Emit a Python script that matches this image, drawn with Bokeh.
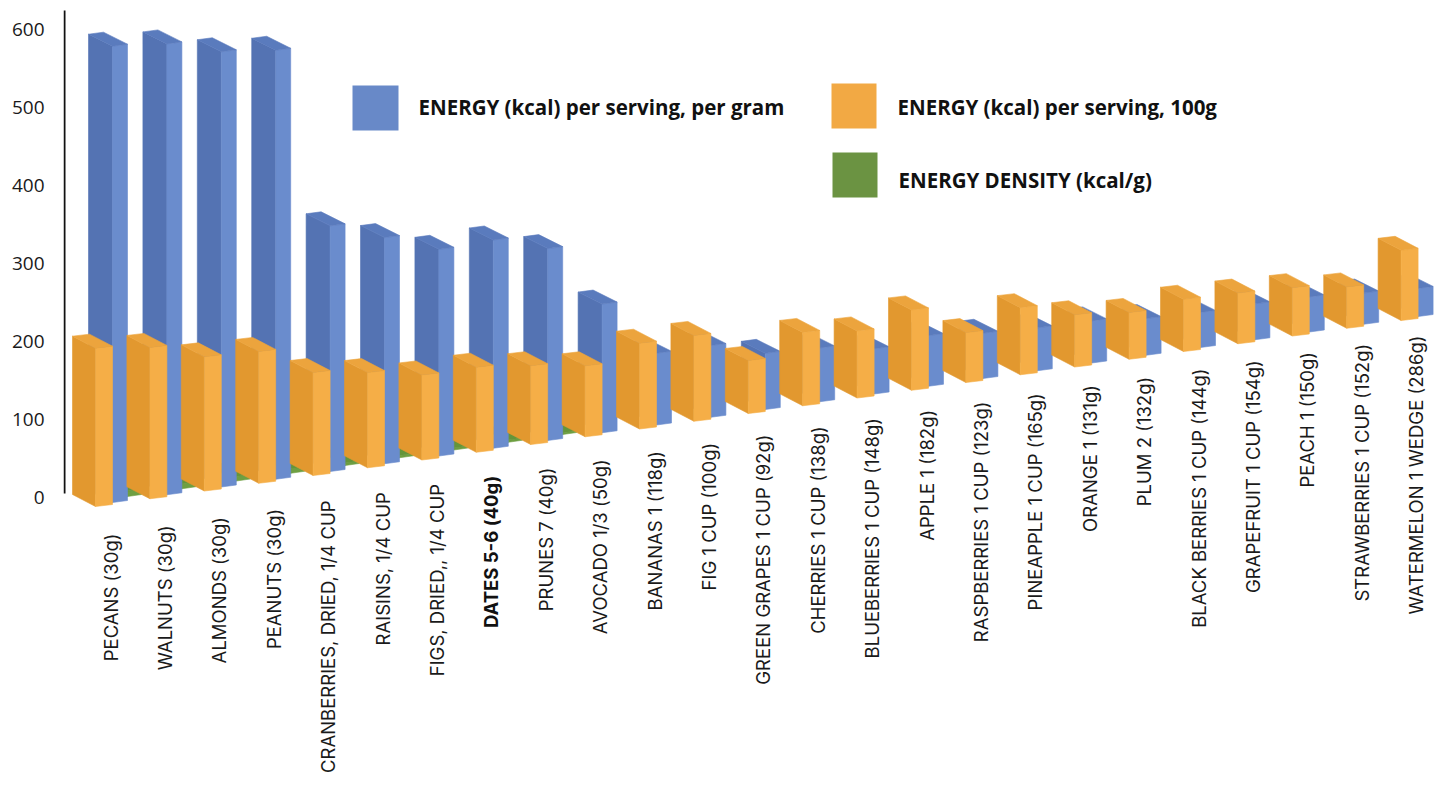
import math
from bokeh.plotting import figure
from bokeh.models import Range1d, LinearAxis, FixedTicker, ColumnDataSource
from bokeh.embed import file_html
from bokeh.resources import INLINE
from bokeh.core.properties import value

# ---------------- data ----------------
categories = [
    "PECANS (30g)", "WALNUTS (30g)", "ALMONDS (30g)", "PEANUTS (30g)",
    "CRANBERRIES, DRIED, 1/4 CUP", "RAISINS, 1/4 CUP", "FIGS, DRIED,, 1/4 CUP",
    "DATES 5-6 (40g)", "PRUNES 7 (40g)", "AVOCADO 1/3 (50g)", "BANANAS 1 (118g)",
    "FIG 1 CUP (100g)", "GREEN GRAPES 1 CUP (92g)", "CHERRIES 1 CUP (138g)",
    "BLUEBERRIES 1 CUP (148g)", "APPLE 1 (182g)", "RASPBERRIES 1 CUP (123g)",
    "PINEAPPLE 1 CUP (165g)", "ORANGE 1 (131g)", "PLUM 2 (132g)",
    "BLACK BERRIES 1 CUP (144g)", "GRAPEFRUIT 1 CUP (154g)", "PEACH 1 (150g)",
    "STRAWBERRIES 1 CUP (152g)", "WATERMELON 1 WEDGE (286g)",
]
bold_category = "DATES 5-6 (40g)"

energy_per_gram = [585, 578, 558, 550, 315, 290, 265, 267, 246, 165, 92, 92, 72,
                   69, 58, 65, 58, 55, 54, 47, 45, 46, 45, 40, 36]
energy_per_serving = [203, 194, 172, 169, 132, 122, 109, 109, 101, 91, 110, 110, 68,
                      94, 86, 103, 64, 86, 67, 60, 67, 65, 62, 53, 90]
energy_density = [6.9, 6.5, 5.8, 5.7, 3.1, 3.0, 2.5, 2.8, 2.4, 1.6, 0.9, 0.7, 0.7,
                  0.6, 0.6, 0.5, 0.5, 0.5, 0.5, 0.5, 0.4, 0.4, 0.4, 0.3, 0.3]

series_names = ["ENERGY (kcal) per serving, per gram",
                "ENERGY (kcal) per serving, 100g",
                "ENERGY DENSITY (kcal/g)"]
y_ticks = [0, 100, 200, 300, 400, 500, 600]

# ---------------- layout / style ----------------
W, H = 1435, 802
STEP = 54.4          # px per category
PXV = 0.78           # px per value unit
X0PX = 72            # left edge of first column (px)
Y0PX = 497           # px of value 0
FRAME_LEFT = 63


def X(px):
    return (px - X0PX) / STEP


def Y(px):
    return (Y0PX - px) / PXV


def dX(px):
    return px / STEP


def dY(px):
    return px / PXV


FONT = "Open Sans"
LABEL_FONT = "Inter"

colors = {
    "blue": ("#5473B3", "#6A8CCD", "#5A7BBD"),
    "orange": ("#E2982F", "#F5AE47", "#ECA43D"),
    "green": ("#5A8732", "#6E9F42", "#64953A"),
}
legend_colors = ["#6889C8", "#F2A944", "#6B9342"]

p = figure(width=W, height=H,
           x_range=Range1d(X(FRAME_LEFT), X(W)),
           y_range=Range1d(Y(H), Y(0)),
           x_axis_type=None, y_axis_type=None,
           output_backend="svg", toolbar_location=None,
           min_border_left=FRAME_LEFT, min_border_right=0,
           min_border_top=0, min_border_bottom=0)
p.outline_line_color = None
p.background_fill_color = "white"
p.border_fill_color = "white"

yaxis = LinearAxis(ticker=FixedTicker(ticks=y_ticks))
yaxis.axis_line_color = None
yaxis.major_tick_line_color = None
yaxis.minor_tick_line_color = None
yaxis.major_label_standoff = 13
yaxis.major_label_text_font = FONT
yaxis.major_label_text_font_size = "19px"
yaxis.major_label_text_color = "#1a1a1a"
p.add_layout(yaxis, "left")

# axis line as drawn in the reference (shorter than the frame)
p.segment(x0=[X(64)], y0=[Y(10)], x1=[X(64)], y1=[Y(493)],
          line_color="#111111", line_width=2)

SLOPE = dY(12)   # rise of left edge of the side face
RISE = dY(2)     # small rise across the front face


def floor_base(i):
    # sloping floor of the 3-D chart (px of front bottom edge)
    return Y(506 - 7.75 * i)


def bars(vals, dxpx, dypx, wlpx, wrpx, cols, min_val=None):
    xs, ys, cs = [], [], []
    for i, v in enumerate(vals):
        if min_val is not None and v < min_val:
            continue
        x0 = i + dX(dxpx)
        x1 = x0 + dX(wlpx)
        x2 = x1 + dX(wrpx)
        base = floor_base(i) + dY(dypx)
        top = base + v
        # left (side) face
        xs.append([x0, x1, x1, x0]); ys.append([top + SLOPE, top, base, base + SLOPE]); cs.append(cols[0])
        # front face
        xs.append([x1, x2, x2, x1]); ys.append([top, top + RISE, base + RISE, base]); cs.append(cols[1])
        # top face
        xs.append([x0, x0 + dX(wrpx), x2, x1])
        ys.append([top + SLOPE, top + SLOPE + RISE, top + RISE, top]); cs.append(cols[2])
    src = ColumnDataSource(dict(xs=xs, ys=ys, c=cs))
    p.patches("xs", "ys", fill_color="c", line_color="c", line_width=0.6, source=src)


# back to front: green, blue, orange
bars(energy_density, 33, 10, 22, 14, colors["green"], min_val=2)
bars(energy_per_gram, 16, 4, 24, 15, colors["blue"])
bars(energy_per_serving, 0, 0, 23, 17, colors["orange"])

# ---------------- category labels ----------------
lab_x, lab_y, lab_t = [], [], []
b_x, b_y, b_t = [], [], []
for i, c in enumerate(categories):
    lx = i + dX(38)
    ly = Y(533 - 8.25 * i)
    if c == bold_category:
        b_x.append(lx); b_y.append(ly); b_t.append(c)
    else:
        lab_x.append(lx); lab_y.append(ly); lab_t.append(c)

p.text(x=lab_x, y=lab_y, text=lab_t, angle=math.pi / 2,
       text_align="right", text_baseline="middle",
       text_font=value(LABEL_FONT), text_font_size="18.5px", text_color="#1a1a1a")
p.text(x=b_x, y=b_y, text=b_t, angle=math.pi / 2,
       text_align="right", text_baseline="middle",
       text_font=value(LABEL_FONT), text_font_size="18.5px", text_font_style="bold",
       text_color="#111111")

# ---------------- legend ----------------
leg_boxes = [(352, 398, 85, 130), (831, 876, 83, 128), (832, 877, 152, 197)]
leg_text_pos = [(418, 106), (897, 106), (898, 179)]
p.quad(left=[X(b[0]) for b in leg_boxes], right=[X(b[1]) for b in leg_boxes],
       top=[Y(b[2]) for b in leg_boxes], bottom=[Y(b[3]) for b in leg_boxes],
       fill_color=legend_colors, line_color=None)
p.text(x=[X(t[0]) for t in leg_text_pos], y=[Y(t[1]) for t in leg_text_pos],
       text=series_names, text_align="left", text_baseline="middle",
       text_font=value(FONT), text_font_size="20.5px", text_font_style="bold",
       text_color="#111111")

open("out.html", "w").write(file_html(p, INLINE))
